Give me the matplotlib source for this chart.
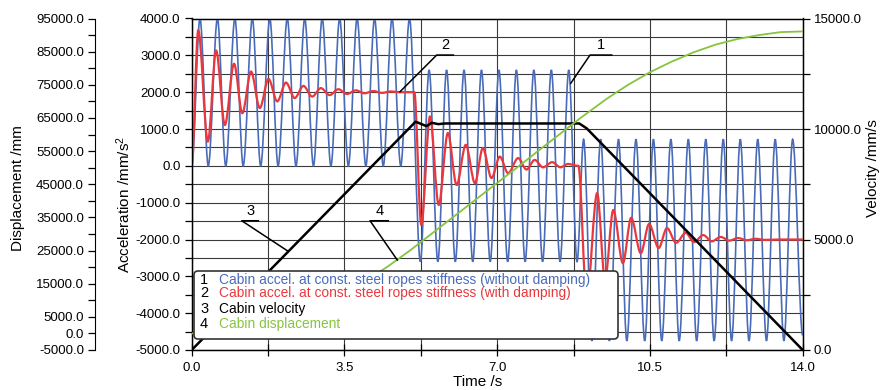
import matplotlib
matplotlib.use('Agg')
import matplotlib.pyplot as plt
from matplotlib.patches import FancyBboxPatch, PathPatch
from matplotlib.path import Path
from matplotlib.transforms import IdentityTransform
from matplotlib.ticker import MultipleLocator, FuncFormatter

plt.rcParams['font.family'] = ['Liberation Sans', 'DejaVu Sans']
plt.rcParams['mathtext.fontset'] = 'custom'
plt.rcParams['mathtext.rm'] = 'Liberation Sans'
plt.rcParams['mathtext.it'] = 'Liberation Sans'

# ---------------- data ----------------
# 1: cabin acceleration without damping (turning points)
blue_t = [0.0, 0.19, 0.38, 0.59, 0.78, 0.99, 1.18, 1.39, 1.58, 1.79, 1.98, 2.19, 2.39,
          2.59, 2.79, 2.99, 3.19, 3.39, 3.59, 3.79, 3.99, 4.19, 4.39, 4.59, 4.79, 4.99,
          5.24, 5.44, 5.64, 5.84, 6.04, 6.24, 6.44, 6.64, 6.84, 7.04, 7.24, 7.44, 7.64,
          7.84, 8.04, 8.24, 8.44, 8.64, 8.83,
          8.98, 9.17, 9.37, 9.57, 9.78, 9.97, 10.18, 10.38, 10.58, 10.77, 10.98, 11.17,
          11.38, 11.57, 11.78, 11.97, 12.18, 12.37, 12.57, 12.77, 12.97, 13.17, 13.37,
          13.57, 13.77, 14.0]
blue_a = [0, 4000, 0, 4000, 0, 4000, 0, 4000, 0, 4000, 0, 4000, 0,
          4000, 0, 4000, 0, 4000, 0, 4000, 0, 4000, 0, 4000, 0, 4000,
          -2600, 2600, -2600, 2600, -2600, 2600, -2600, 2600, -2600, 2600, -2600, 2600, -2600,
          2600, -2600, 2600, -2600, 2600, -2600,
          720, -4750, 720, -4750, 720, -4750, 720, -4750, 720, -4750, 720, -4750,
          720, -4750, 720, -4750, 720, -4750, 720, -4750, 720, -4750, 720,
          -4750, 720, -4600]

# 2: cabin acceleration with damping (turning points)
red_t = [0.0, 0.15, 0.37, 0.56, 0.76, 0.97, 1.16, 1.36, 1.56, 1.76, 1.96, 2.16, 2.36,
         2.56, 2.76, 2.96, 3.16, 3.36, 3.56, 3.76, 3.96, 4.16, 4.36, 4.56, 4.76, 5.1,
         5.26, 5.46, 5.66, 5.87, 6.07, 6.28, 6.49, 6.67, 6.87, 7.06, 7.25, 7.48, 7.67,
         7.86, 8.05, 8.26, 8.45, 8.62, 8.86,
         9.05, 9.29, 9.47, 9.66, 9.88, 10.07, 10.29, 10.48, 10.7, 10.89, 11.1, 11.32,
         11.51, 11.72, 11.92, 12.12, 12.32, 12.52, 12.72, 12.92, 13.12, 13.5, 14.0]
red_a = [0, 3680, 660, 3130, 1110, 2770, 1430, 2560, 1570, 2360, 1750, 2260, 1840,
         2170, 1880, 2110, 1920, 2080, 1950, 2050, 1970, 2030, 1980, 2020, 2000, 2000,
         -1600, 1340, -1060, 890, -520, 570, -470, 480, -330, 250, -200, 210, -100,
         160, -40, 100, -40, 50, 0,
         -3600, -740, -3100, -1200, -2640, -1410, -2370, -1580, -2230, -1690, -2090, -1820,
         -2070, -1880, -2050, -1930, -2030, -1960, -2020, -1980, -2010, -2000, -2000]

# 3: cabin velocity
vel_t = [0.0, 5.13, 5.38, 5.5, 5.65, 5.8, 8.88, 9.05, 14.0]
vel_v = [0, 10330, 10130, 10280, 10220, 10250, 10250, 10030, 0]

# 4: cabin displacement
disp_t = [0.0, 0.5, 1.0, 1.5, 2.0, 2.5, 3.0, 3.5, 4.0, 4.5, 5.0, 5.5, 6.0, 6.5, 7.0,
          7.5, 8.0, 8.5, 8.9, 9.5, 10.0, 10.5, 11.0, 11.5, 12.0, 12.5, 13.0, 13.5, 14.0]
disp_s = [0, 250, 1000, 2250, 4000, 6250, 9000, 12250, 16000, 20250, 25000, 30100,
          35200, 40300, 45400, 50500, 55700, 60800, 64900, 70700, 75000, 78800, 82000,
          84800, 87100, 88800, 90000, 90900, 91100]

time_ticks = [0.0, 3.5, 7.0, 10.5, 14.0]
time_labels = ['0.0', '3.5', '7.0', '10.5', '14.0']
disp_ticks = [95000, 85000, 75000, 65000, 55000, 45000, 35000, 25000, 15000, 5000, 0, -5000]
legend_labels = ['Cabin accel. at const. steel ropes stiffness (without damping)',
                 'Cabin accel. at const. steel ropes stiffness (with damping)',
                 'Cabin velocity',
                 'Cabin displacement']

# callouts: label, text pos (t, a), underline from/to t, underline a, pointed end (t, a)
callouts = [('1', 9.37, 3080, 9.127, 9.624, 3008, 8.685, 2240),
            ('2', 5.80, 3080, 5.614, 5.995, 3008, 4.773, 2012),
            ('3', 1.34, -1420, 1.146, 1.526, -1491, 2.191, -2305),
            ('4', 4.30, -1420, 4.086, 4.505, -1491, 4.711, -2558)]

BLUE = '#4a6cb8'
RED = '#e8383d'
GREEN = '#86c440'
GRID = '#3a3a3a'


def smooth_path(ts, vs):
    """Smooth curve through the turning points (flat tangents at each point)."""
    verts = [(ts[0], vs[0])]
    codes = [Path.MOVETO]
    for i in range(1, len(ts)):
        d = (ts[i] - ts[i - 1]) / 3.0
        verts += [(ts[i - 1] + d, vs[i - 1]), (ts[i] - d, vs[i]), (ts[i], vs[i])]
        codes += [Path.CURVE4] * 3
    return Path(verts, codes)


W, H = 882, 390
fig = plt.figure(figsize=(W / 100, H / 100), dpi=100)
x0, x1 = 191.7, 802.7
ytop, ybot = 18.5, 350.0
ax = fig.add_axes([x0 / W, 1 - ybot / H, (x1 - x0) / W, (ybot - ytop) / H])
ax_v = ax.twinx()
ax_d = ax.twinx()

# acceleration axis
ax.set_xlim(0, 14)
ax.set_ylim(-5000, 4000)
ax.yaxis.set_major_locator(MultipleLocator(1000))
ax.yaxis.set_minor_locator(MultipleLocator(500))
ax.yaxis.set_major_formatter(FuncFormatter(lambda v, p: f'{v:.1f}'))
ax.set_xticks(time_ticks)
ax.set_xticklabels(time_labels)
ax.xaxis.set_minor_locator(MultipleLocator(1.75))
ax.grid(True, which='both', color=GRID, lw=0.8)
ax.set_axisbelow(True)
ax.tick_params(axis='y', which='both', direction='out', length=5, width=0.9,
               labelsize=9.5, pad=3)
ax.tick_params(axis='x', which='both', direction='inout', length=9, width=0.9,
               labelsize=9.5, pad=4)
for s in ax.spines.values():
    s.set_linewidth(1.0)

ax.add_patch(PathPatch(smooth_path(blue_t, blue_a), facecolor='none', edgecolor=BLUE,
                       lw=1.2, zorder=3))
ax.add_patch(PathPatch(smooth_path(red_t, red_a), facecolor='none', edgecolor=RED,
                       lw=1.6, zorder=4))

# velocity axis (right)
ax_v.set_ylim(0, 15000)
ax_v.yaxis.set_major_locator(MultipleLocator(5000))
ax_v.yaxis.set_minor_locator(MultipleLocator(2500))
ax_v.yaxis.set_major_formatter(FuncFormatter(lambda v, p: f'{v:.1f}'))
ax_v.tick_params(axis='y', which='both', direction='out', length=5, width=0.9,
                 labelsize=9.5, pad=3)
ax_v.plot(vel_t, vel_v, color='black', lw=1.8, zorder=5)

# displacement axis (far left)
ax_d.set_ylim(-5000, 95000)
ax_d.spines['left'].set_position(('axes', (95 - x0) / (x1 - x0)))
ax_d.spines['left'].set_visible(True)
ax_d.spines['right'].set_visible(False)
ax_d.spines['top'].set_visible(False)
ax_d.spines['bottom'].set_visible(False)
ax_d.yaxis.set_ticks_position('left')
ax_d.yaxis.set_label_position('left')
ax_d.yaxis.set_major_locator(MultipleLocator(5000))
ax_d.yaxis.set_major_formatter(
    FuncFormatter(lambda v, p: f'{v:.1f}' if int(round(v)) in disp_ticks else ''))
ax_d.tick_params(axis='y', which='both', direction='out', length=5, width=0.9,
                 labelsize=9.5, pad=3)
ax_d.plot(disp_t, disp_s, color=GREEN, lw=1.3, zorder=4)

# callouts (drawn on the top-most axes, in acceleration data coordinates)
for lab, tx, ty, u0, u1, uy, pt, pa in callouts:
    ax_d.plot([u1, u0, pt], [uy, uy, pa], color='black', lw=1.1, zorder=6,
              clip_on=False, transform=ax.transData)
    ax_d.text(tx, ty, lab, fontsize=10.5, ha='center', va='bottom', zorder=6,
              transform=ax.transData)

# axis labels
fig.text(18 / W, 1 - 188 / H, 'Displacement /mm', rotation=90, ha='center', va='center',
         fontsize=11)
fig.text(124 / W, 1 - 204 / H, 'Acceleration /mm/s$^2$', rotation=90, ha='center',
         va='center', fontsize=11)
fig.text(873 / W, 1 - 168 / H, 'Velocity /mm/s', rotation=90, ha='center', va='center',
         fontsize=11)
fig.text(478 / W, 1 - 382 / H, 'Time /s', ha='center', va='center', fontsize=11)

# legend box
box = FancyBboxPatch((194, H - 339), 424, 68, boxstyle='round,pad=0,rounding_size=4',
                     transform=IdentityTransform(), facecolor='white',
                     edgecolor='#333333', lw=1.2, zorder=10)
box.set_figure(fig)
fig.patches.append(box)
leg_colors = [BLUE, RED, 'black', GREEN]
leg_y = [280, 293, 309, 324]
for i, (lab, c, yy) in enumerate(zip(legend_labels, leg_colors, leg_y)):
    fig.text(200 / W, 1 - yy / H, str(i + 1), ha='left', va='center', fontsize=10.5,
             color='black', zorder=11)
    fig.text(219 / W, 1 - yy / H, lab, ha='left', va='center', fontsize=9.9, color=c,
             zorder=11)

fig.savefig('out.png', dpi=100, facecolor='white')
